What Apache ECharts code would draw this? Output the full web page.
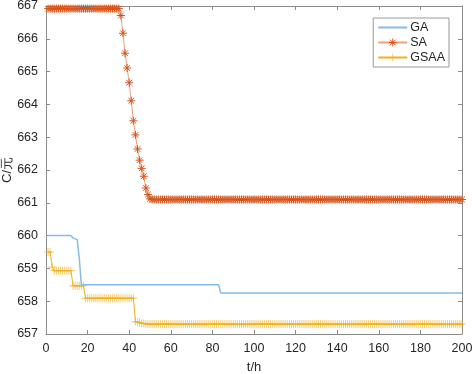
<!DOCTYPE html>
<html>
<head>
<meta charset="utf-8">
<script src="https://cdn.jsdelivr.net/npm/echarts@6/dist/echarts.min.js"></script>
<style>
  html, body { margin: 0; padding: 0; background: #fff; }
  #main { width: 472px; height: 374px; }
</style>
</head>
<body>
<div id="main"></div>
<script>
// cost per hour, t = 1..200
var seriesNames = ['GA', 'SA', 'GSAA'];
var xTicks = [0, 20, 40, 60, 80, 100, 120, 140, 160, 180, 200];
var yTicks = [657, 658, 659, 660, 661, 662, 663, 664, 665, 666, 667];

var gaCost = [
  660, 660, 660, 660, 660, 660, 660, 660, 660, 660, 660, 660, 659.93, 659.9, 659.88, 659.3, 658.5, 658.5, 658.5, 658.5,
  658.5, 658.5, 658.5, 658.5, 658.5, 658.5, 658.5, 658.5, 658.5, 658.5, 658.5, 658.5, 658.5, 658.5, 658.5, 658.5, 658.5, 658.5, 658.5, 658.5,
  658.5, 658.5, 658.5, 658.5, 658.5, 658.5, 658.5, 658.5, 658.5, 658.5, 658.5, 658.5, 658.5, 658.5, 658.5, 658.5, 658.5, 658.5, 658.5, 658.5,
  658.5, 658.5, 658.5, 658.5, 658.5, 658.5, 658.5, 658.5, 658.5, 658.5, 658.5, 658.5, 658.5, 658.5, 658.5, 658.5, 658.5, 658.5, 658.5, 658.5,
  658.5, 658.5, 658.5, 658.25, 658.25, 658.25, 658.25, 658.25, 658.25, 658.25, 658.25, 658.25, 658.25, 658.25, 658.25, 658.25, 658.25, 658.25, 658.25, 658.25,
  658.25, 658.25, 658.25, 658.25, 658.25, 658.25, 658.25, 658.25, 658.25, 658.25, 658.25, 658.25, 658.25, 658.25, 658.25, 658.25, 658.25, 658.25, 658.25, 658.25,
  658.25, 658.25, 658.25, 658.25, 658.25, 658.25, 658.25, 658.25, 658.25, 658.25, 658.25, 658.25, 658.25, 658.25, 658.25, 658.25, 658.25, 658.25, 658.25, 658.25,
  658.25, 658.25, 658.25, 658.25, 658.25, 658.25, 658.25, 658.25, 658.25, 658.25, 658.25, 658.25, 658.25, 658.25, 658.25, 658.25, 658.25, 658.25, 658.25, 658.25,
  658.25, 658.25, 658.25, 658.25, 658.25, 658.25, 658.25, 658.25, 658.25, 658.25, 658.25, 658.25, 658.25, 658.25, 658.25, 658.25, 658.25, 658.25, 658.25, 658.25,
  658.25, 658.25, 658.25, 658.25, 658.25, 658.25, 658.25, 658.25, 658.25, 658.25, 658.25, 658.25, 658.25, 658.25, 658.25, 658.25, 658.25, 658.25, 658.25, 658.25
];

var saCost = [
  666.92, 666.92, 666.92, 666.92, 666.92, 666.92, 666.92, 666.92, 666.92, 666.92, 666.92, 666.92, 666.92, 666.92, 666.92, 666.92, 666.92, 666.92, 666.92, 666.92,
  666.92, 666.92, 666.92, 666.92, 666.92, 666.92, 666.92, 666.92, 666.92, 666.92, 666.92, 666.92, 666.92, 666.92, 666.92, 666.71, 666.17, 665.56, 665.11, 664.66,
  664.11, 663.5, 663.07, 662.64, 662.3, 662.05, 661.81, 661.45, 661.25, 661.12, 661.1, 661.1, 661.1, 661.1, 661.1, 661.1, 661.1, 661.1, 661.1, 661.1,
  661.1, 661.1, 661.1, 661.1, 661.1, 661.1, 661.1, 661.1, 661.1, 661.1, 661.1, 661.1, 661.1, 661.1, 661.1, 661.1, 661.1, 661.1, 661.1, 661.1,
  661.1, 661.1, 661.1, 661.1, 661.1, 661.1, 661.1, 661.1, 661.1, 661.1, 661.1, 661.1, 661.1, 661.1, 661.1, 661.1, 661.1, 661.1, 661.1, 661.1,
  661.1, 661.1, 661.1, 661.1, 661.1, 661.1, 661.1, 661.1, 661.1, 661.1, 661.1, 661.1, 661.1, 661.1, 661.1, 661.1, 661.1, 661.1, 661.1, 661.1,
  661.1, 661.1, 661.1, 661.1, 661.1, 661.1, 661.1, 661.1, 661.1, 661.1, 661.1, 661.1, 661.1, 661.1, 661.1, 661.1, 661.1, 661.1, 661.1, 661.1,
  661.1, 661.1, 661.1, 661.1, 661.1, 661.1, 661.1, 661.1, 661.1, 661.1, 661.1, 661.1, 661.1, 661.1, 661.1, 661.1, 661.1, 661.1, 661.1, 661.1,
  661.1, 661.1, 661.1, 661.1, 661.1, 661.1, 661.1, 661.1, 661.1, 661.1, 661.1, 661.1, 661.1, 661.1, 661.1, 661.1, 661.1, 661.1, 661.1, 661.1,
  661.1, 661.1, 661.1, 661.1, 661.1, 661.1, 661.1, 661.1, 661.1, 661.1, 661.1, 661.1, 661.1, 661.1, 661.1, 661.1, 661.1, 661.1, 661.1, 661.1
];

var gsaaCost = [
  659.5, 659.5, 659.04, 658.93, 658.93, 658.93, 658.93, 658.93, 658.93, 658.93, 658.93, 658.93, 658.47, 658.47, 658.47, 658.47, 658.47, 658.47, 658.09, 658.09,
  658.09, 658.09, 658.09, 658.09, 658.09, 658.09, 658.09, 658.09, 658.09, 658.09, 658.09, 658.09, 658.09, 658.09, 658.09, 658.09, 658.09, 658.09, 658.09, 658.09,
  658.09, 658.09, 657.38, 657.36, 657.35, 657.33, 657.32, 657.31, 657.3, 657.3, 657.3, 657.3, 657.3, 657.3, 657.3, 657.3, 657.3, 657.3, 657.3, 657.3,
  657.3, 657.3, 657.3, 657.3, 657.3, 657.3, 657.3, 657.3, 657.3, 657.3, 657.3, 657.3, 657.3, 657.3, 657.3, 657.3, 657.3, 657.3, 657.3, 657.3,
  657.3, 657.3, 657.3, 657.3, 657.3, 657.3, 657.3, 657.3, 657.3, 657.3, 657.3, 657.3, 657.3, 657.3, 657.3, 657.3, 657.3, 657.3, 657.3, 657.3,
  657.3, 657.3, 657.3, 657.3, 657.3, 657.3, 657.3, 657.3, 657.3, 657.3, 657.3, 657.3, 657.3, 657.3, 657.3, 657.3, 657.3, 657.3, 657.3, 657.3,
  657.3, 657.3, 657.3, 657.3, 657.3, 657.3, 657.3, 657.3, 657.3, 657.3, 657.3, 657.3, 657.3, 657.3, 657.3, 657.3, 657.3, 657.3, 657.3, 657.3,
  657.3, 657.3, 657.3, 657.3, 657.3, 657.3, 657.3, 657.3, 657.3, 657.3, 657.3, 657.3, 657.3, 657.3, 657.3, 657.3, 657.3, 657.3, 657.3, 657.3,
  657.3, 657.3, 657.3, 657.3, 657.3, 657.3, 657.3, 657.3, 657.3, 657.3, 657.3, 657.3, 657.3, 657.3, 657.3, 657.3, 657.3, 657.3, 657.3, 657.3,
  657.3, 657.3, 657.3, 657.3, 657.3, 657.3, 657.3, 657.3, 657.3, 657.3, 657.3, 657.3, 657.3, 657.3, 657.3, 657.3, 657.3, 657.3, 657.3, 657.3
];

// hour index of each sample (1..200)
function withHours(values) {
  return values.map(function (v, i) { return [i + 1, v]; });
}

var chart = echarts.init(document.getElementById('main'), null, { renderer: 'canvas' });

var axisGray = '#8c8c8c';
var textDark = '#262626';
var font = 'Liberation Sans, Arial, sans-serif';

var asterisk = 'path://M0,5L10,5M5,0L5,10M1.5,1.5L8.5,8.5M1.5,8.5L8.5,1.5';
var plus = 'path://M0,5L10,5M5,0L5,10';

function boxAxis(pos, isX) {
  return {
    type: 'value',
    position: pos,
    min: isX ? xTicks[0] : yTicks[0],
    max: isX ? xTicks[xTicks.length - 1] : yTicks[yTicks.length - 1],
    interval: isX ? 20 : 1,
    axisLine: { show: true, onZero: false, lineStyle: { color: axisGray, width: 1 } },
    axisTick: { show: true, inside: true, length: 4, lineStyle: { color: axisGray } },
    axisLabel: { show: false },
    splitLine: { show: false }
  };
}

var xBottom = boxAxis('bottom', true);
xBottom.axisLabel = { show: true, color: textDark, fontSize: 12.5, fontFamily: font, margin: 8 };
xBottom.name = 't/h';
xBottom.nameLocation = 'middle';
xBottom.nameGap = 27;
xBottom.nameMoveOverlap = false;
xBottom.nameTextStyle = { color: textDark, fontSize: 13, fontFamily: font };

var yLeft = boxAxis('left', false);
yLeft.axisLabel = { show: true, color: textDark, fontSize: 12.5, fontFamily: font, margin: 8 };
yLeft.name = 'C/元';
yLeft.nameLocation = 'middle';
yLeft.nameGap = 32;
yLeft.nameMoveOverlap = false;
yLeft.nameTextStyle = { color: textDark, fontSize: 13, fontFamily: font };

var option = {
  animation: false,
  backgroundColor: '#fff',
  grid: { left: 46, right: 10, top: 6, bottom: 40, containLabel: false, outerBoundsMode: 'none' },
  xAxis: [xBottom, boxAxis('top', true)],
  yAxis: [yLeft, boxAxis('right', false)],
  legend: {
    orient: 'vertical',
    right: 23,
    top: 18,
    padding: [3, 4, 3, 4],
    itemGap: 2,
    itemWidth: 29,
    itemHeight: 10,
    backgroundColor: '#fff',
    borderColor: '#9a9a9a',
    borderWidth: 1,
    borderRadius: 0,
    textStyle: { color: textDark, fontSize: 12.5, fontFamily: font, padding: [0, 0, 0, -2] },
    data: [
      { name: seriesNames[0], itemStyle: { color: 'rgba(0,0,0,0)', borderWidth: 0 } },
      { name: seriesNames[1], itemStyle: { color: '#D95319', borderColor: '#D95319', borderWidth: 1 } },
      { name: seriesNames[2], itemStyle: { color: '#EDB120', borderColor: '#EDB120', borderWidth: 1 } }
    ]
  },
  series: [{
    name: seriesNames[0],
    type: 'line',
    data: withHours(gaCost),
    showSymbol: false,
    symbol: 'none',
    color: '#86bde6',
    lineStyle: { color: '#86bde6', width: 1.5 },
    z: 2
  }, {
    name: seriesNames[1],
    type: 'line',
    data: withHours(saCost),
    symbol: asterisk,
    symbolSize: 8,
    color: '#D95319',
    itemStyle: { color: '#D95319', borderColor: '#D95319', borderWidth: 1 },
    lineStyle: { color: '#eea07c', width: 1 },
    z: 3
  }, {
    name: seriesNames[2],
    type: 'line',
    data: withHours(gsaaCost),
    symbol: plus,
    symbolSize: 8,
    color: '#EDB120',
    itemStyle: { color: '#EDB120', borderColor: '#EDB120', borderWidth: 1, opacity: 0.65 },
    lineStyle: { color: '#EDB120', width: 1 },
    z: 4
  }]
};

chart.setOption(option);
</script>
</body>
</html>
